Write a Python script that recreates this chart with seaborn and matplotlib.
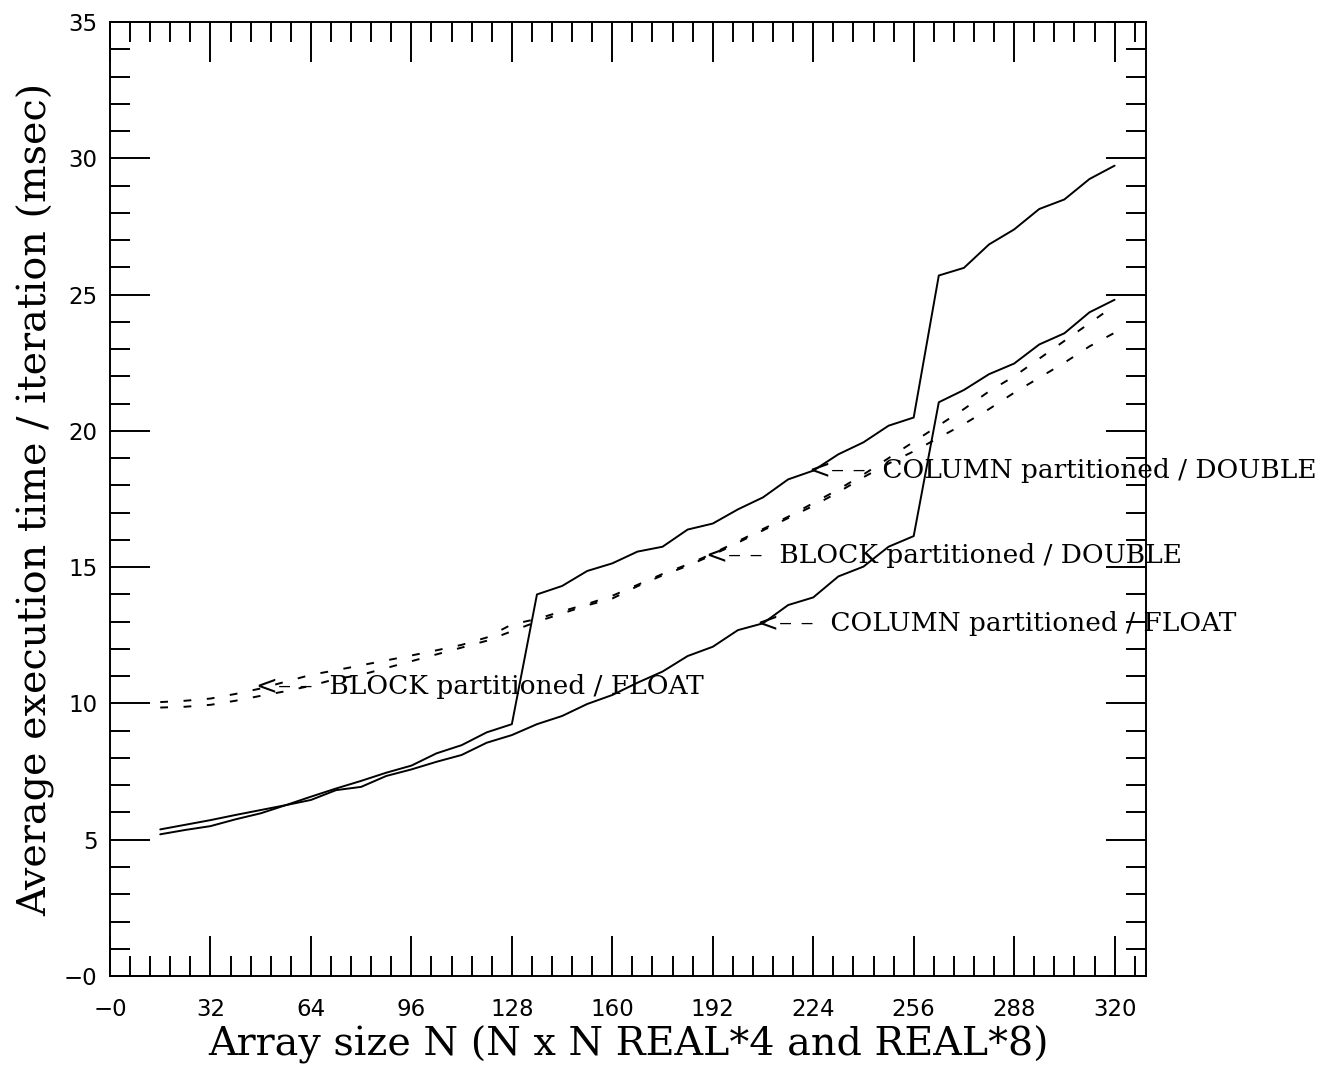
import pandas as pd
import matplotlib
matplotlib.use("Agg")
import matplotlib.pyplot as plt
import seaborn as sns
from matplotlib.ticker import MultipleLocator, AutoMinorLocator, FixedLocator, FixedFormatter

# array sizes N
sizes = list(range(16, 321, 8))

col_double = [5.20, 5.36, 5.50, 5.75, 5.97, 6.27, 6.58, 6.88, 7.16, 7.46, 7.72, 8.17, 8.47, 8.94, 9.24,
              14.00, 14.31, 14.86, 15.14, 15.57, 15.75, 16.38, 16.60, 17.12, 17.56, 18.22, 18.54, 19.14,
              19.58, 20.19, 20.49, 25.70, 25.98, 26.84, 27.39, 28.14, 28.49, 29.24, 29.73]
col_float = [5.38, 5.55, 5.72, 5.91, 6.09, 6.27, 6.46, 6.82, 6.94, 7.34, 7.58, 7.86, 8.11, 8.56, 8.84,
             9.24, 9.54, 9.98, 10.31, 10.76, 11.17, 11.74, 12.08, 12.69, 12.94, 13.61, 13.89, 14.66,
             15.02, 15.75, 16.14, 21.05, 21.50, 22.08, 22.47, 23.17, 23.58, 24.35, 24.81]
blk_double = [10.05, 10.10, 10.18, 10.35, 10.55, 10.80, 11.05, 11.22, 11.40, 11.58, 11.76, 11.95, 12.15,
              12.42, 12.90, 13.10, 13.38, 13.65, 13.95, 14.35, 14.75, 15.10, 15.50, 15.95, 16.40, 16.85,
              17.35, 17.85, 18.40, 19.00, 19.60, 20.20, 20.80, 21.45, 22.00, 22.65, 23.30, 23.95, 24.60]
blk_float = [9.85, 9.88, 9.95, 10.10, 10.28, 10.45, 10.65, 10.90, 11.05, 11.30, 11.55, 11.80, 12.05,
             12.30, 12.65, 13.00, 13.30, 13.60, 13.85, 14.30, 14.70, 15.05, 15.45, 15.90, 16.35, 16.80,
             17.25, 17.75, 18.30, 18.80, 19.25, 19.75, 20.25, 20.80, 21.40, 21.95, 22.50, 23.10, 23.60]

series_names = ["COLUMN partitioned / DOUBLE", "COLUMN partitioned / FLOAT",
                "BLOCK partitioned / DOUBLE", "BLOCK partitioned / FLOAT"]

# label anchor points (arrow tip) in data units
label_x = [222.5, 206.0, 190.0, 46.5]
label_y = [18.56, 12.95, 15.44, 10.64]

xticks = [0, 32, 64, 96, 128, 160, 192, 224, 256, 288, 320]
xticklabels = ["\u22120"] + [str(v) for v in xticks[1:]]
yticks = [0, 5, 10, 15, 20, 25, 30, 35]
yticklabels = ["\u22120"] + [str(v) for v in yticks[1:]]

frames = []
for name, vals in zip(series_names, [col_double, col_float, blk_double, blk_float]):
    frames.append(pd.DataFrame({"N": sizes, "time": vals, "series": name}))
df = pd.concat(frames, ignore_index=True)

sns.set_style("ticks")
plt.rcParams['font.family'] = ['DejaVu Serif', 'DejaVu Sans']
plt.rcParams['text.color'] = 'black'
plt.rcParams['axes.labelcolor'] = 'black'
plt.rcParams['xtick.color'] = 'black'
plt.rcParams['ytick.color'] = 'black'

fig = plt.figure(figsize=(13.27, 10.68), dpi=100)
ax = fig.add_axes([0.0829, 0.0861, 0.7807, 0.8933])

dash_map = {series_names[0]: "", series_names[1]: "",
            series_names[2]: (4, 8), series_names[3]: (4, 8)}
sns.lineplot(data=df, x="N", y="time", style="series", dashes=dash_map,
             color="black", linewidth=1.4, legend=False, errorbar=None, ax=ax)

for name, lx, ly in zip(series_names, label_x, label_y):
    ax.text(lx, ly, "<\u2013 \u2013  " + name, ha="left", va="center", fontsize=19,
            clip_on=False, color="black")

ax.set_xlim(0, 330)
ax.set_ylim(0, 35)
ax.xaxis.set_major_locator(FixedLocator(xticks))
ax.xaxis.set_major_formatter(FixedFormatter(xticklabels))
ax.xaxis.set_minor_locator(MultipleLocator(6.4))
ax.yaxis.set_major_locator(FixedLocator(yticks))
ax.yaxis.set_major_formatter(FixedFormatter(yticklabels))
ax.yaxis.set_minor_locator(AutoMinorLocator(5))

for side in ax.spines.values():
    side.set_linewidth(1.4)
    side.set_color("black")

ax.tick_params(which="both", direction="in", top=True, right=True, width=1.4, color="black")
ax.tick_params(which="major", length=29)
ax.tick_params(which="minor", length=14.5)
ax.tick_params(axis="x", which="major", pad=16, labelsize=16.5)
ax.tick_params(axis="y", which="major", pad=9, labelsize=16.5)
for lab in ax.get_xticklabels() + ax.get_yticklabels():
    lab.set_family("DejaVu Sans")

ax.set_xlabel("Array size N (N x N REAL*4 and REAL*8)", fontsize=28.5, labelpad=3)
ax.set_ylabel("Average execution time / iteration (msec)", fontsize=28.5, labelpad=6)

fig.savefig("out.png", dpi=100)
